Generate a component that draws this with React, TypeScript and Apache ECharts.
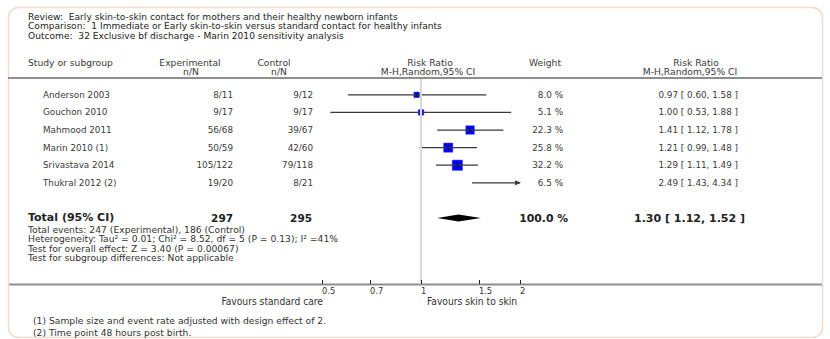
import React, { useEffect, useRef } from 'react';
import * as echarts from 'echarts';

// ---------- data ----------
const studies = ['Anderson 2003', 'Gouchon 2010', 'Mahmood 2011', 'Marin 2010 (1)', 'Srivastava 2014', 'Thukral 2012 (2)'];
const experimental = ['8/11', '9/17', '56/68', '50/59', '105/122', '19/20'];
const control = ['9/12', '9/17', '39/67', '42/60', '79/118', '8/21'];
const riskRatio = [0.97, 1.0, 1.41, 1.21, 1.29, 2.49];
const ciLower = [0.6, 0.53, 1.12, 0.99, 1.11, 1.43];
const ciUpper = [1.58, 1.88, 1.78, 1.48, 1.49, 4.34];
const weights = [8.0, 5.1, 22.3, 25.8, 32.2, 6.5];

const totalLabel = 'Total (95% CI)';
const totalExperimental = 297;
const totalControl = 295;
const totalRR = 1.3;
const totalLower = 1.12;
const totalUpper = 1.52;
const totalWeight = 100.0;

const xTicks = [0.5, 0.7, 1, 1.5, 2];
const X_MIN = 0.5;
const X_MAX = 2;

const headerLines = [
  'Review:  Early skin-to-skin contact for mothers and their healthy newborn infants',
  'Comparison:  1 Immediate or Early skin-to-skin versus standard contact for healthy infants',
  'Outcome:  32 Exclusive bf discharge - Marin 2010 sensitivity analysis',
];
const summaryLines = [
  'Total events: 247 (Experimental), 186 (Control)',
  'Heterogeneity: Tau\u00b2 = 0.01; Chi\u00b2 = 8.52, df = 5 (P = 0.13); I\u00b2 =41%',
  'Test for overall effect: Z = 3.40 (P = 0.00067)',
  'Test for subgroup differences: Not applicable',
];
const footnotes = [
  '(1) Sample size and event rate adjusted with design effect of 2.',
  '(2) Time point 48 hours post birth.',
];
const favoursLeft = 'Favours standard care';
const favoursRight = 'Favours skin to skin';

const FONT = "'DejaVu Sans', Verdana, sans-serif";
const COND = "'DejaVu Sans Condensed', 'Liberation Sans Narrow', 'DejaVu Sans', sans-serif";
const TOTAL_ROW = 7;

function fmtCI(rr: number, lo: number, hi: number) {
  return `${rr.toFixed(2)} [ ${lo.toFixed(2)}, ${hi.toFixed(2)} ]`;
}

function txt(text: string, x: number, y: number, opts: any = {}) {
  const align = opts.align || 'left';
  return {
    type: 'text',
    x,
    y,
    silent: true,
    style: {
      text,
      fontSize: opts.size || 8.8,
      fontFamily: opts.family || FONT,
      fontWeight: opts.weight || 'normal',
      fill: opts.color || '#3a3a3a',
      align,
      textAlign: align,
      verticalAlign: 'middle',
      textVerticalAlign: 'middle',
    },
  };
}

export default function App() {
  const ref = useRef<HTMLDivElement>(null);

  useEffect(() => {
    document.body.style.margin = '0';
    if (!ref.current) return;
    const chart = echarts.init(ref.current, undefined, { renderer: 'svg' });

    const studyData = studies.map((_, i) => [riskRatio[i], i, ciLower[i], ciUpper[i], weights[i]]);
    const H = 9.2;

    const graphics: any[] = [
      {
        type: 'rect',
        silent: true,
        shape: { x: 8.5, y: 7.5, width: 814, height: 330, r: 10 },
        style: { fill: 'none', stroke: '#f5d9cb', lineWidth: 1.5 },
      },
      ...headerLines.map((t, i) => txt(t, 28, 17 + i * 9.4, { color: '#222', size: 9.1 })),
      txt('Study or subgroup', 28, 62, { size: H }),
      txt('Experimental', 190, 62, { align: 'center', size: H }),
      txt('n/N', 191, 71.5, { align: 'center', size: H }),
      txt('Control', 274, 62, { align: 'center', size: H }),
      txt('n/N', 279, 71.5, { align: 'center', size: H }),
      txt('Risk Ratio', 430, 62, { align: 'center', size: H }),
      txt('M-H,Random,95% CI', 428, 71.5, { align: 'center', size: H }),
      txt('Weight', 545, 62, { align: 'center', size: H }),
      txt('Risk Ratio', 696, 62, { align: 'center', size: H }),
      txt('M-H,Random,95% CI', 690, 71.5, { align: 'center', size: H }),
      {
        type: 'line',
        silent: true,
        shape: { x1: 8, y1: 78, x2: 822, y2: 78 },
        style: { stroke: '#8e8e8e', lineWidth: 2 },
      },
      ...summaryLines.map((t, i) => txt(t, 28, 229 + i * 9.5, { size: 9.2, color: '#333' })),
      {
        type: 'line',
        silent: true,
        z: -1,
        shape: { x1: 8, y1: 284.5, x2: 822, y2: 284.5 },
        style: { stroke: '#8e8e8e', lineWidth: 2 },
      },
      txt(favoursLeft, 323, 301, { align: 'right', family: COND, size: 10.2, color: '#333' }),
      txt(favoursRight, 427, 301, { align: 'left', family: COND, size: 10.2, color: '#333' }),
      ...footnotes.map((t, i) => txt(t, 33, 320 + i * 12, { size: 9.2, color: '#333' })),
    ];

    const option: any = {
      animation: false,
      backgroundColor: '#ffffff',
      grid: { left: 322, right: 830 - 520, top: 79, bottom: 339 - 284, containLabel: false },
      xAxis: {
        type: 'log',
        logBase: 10,
        min: X_MIN,
        max: X_MAX,
        z: 10,
        axisLine: { show: false, onZero: false },
        axisTick: {
          show: true,
          inside: true,
          length: 4,
          customValues: xTicks,
          lineStyle: { color: '#222', width: 1 },
        },
        axisLabel: {
          show: true,
          customValues: xTicks,
          align: 'left',
          margin: 2,
          fontSize: 9.2,
          fontFamily: COND,
          color: '#333',
          formatter: (v: number) => String(Math.round(v * 100) / 100),
        },
        splitLine: { show: false },
      },
      yAxis: {
        type: 'value',
        inverse: true,
        min: -0.9,
        max: 10.75,
        show: false,
      },
      graphic: graphics,
      series: [
        {
          type: 'custom',
          name: 'studies',
          clip: false,
          data: studyData,
          markLine: {
            silent: true,
            symbol: 'none',
            label: { show: false },
            lineStyle: { color: '#d9d9d9', width: 2, type: 'solid' },
            data: [{ xAxis: 1 }],
          },
          renderItem: (params: any, api: any) => {
            const i = params.dataIndex;
            const rr = api.value(0) as number;
            const row = api.value(1) as number;
            const lo = api.value(2) as number;
            const hi = api.value(3) as number;
            const w = api.value(4) as number;
            const y = api.coord([1, row])[1];
            const xl = api.coord([Math.max(lo, X_MIN), row])[0];
            const xr = api.coord([Math.min(hi, X_MAX), row])[0];
            const inRange = rr >= X_MIN && rr <= X_MAX;
            const children: any[] = [];
            if (inRange) {
              const xc = api.coord([rr, row])[0];
              const s = Math.max(5.5, Math.sqrt(w) * 1.8);
              children.push({
                type: 'rect',
                shape: { x: xc - s / 2, y: y - s / 2, width: s, height: s },
                style: { fill: '#0000ff', stroke: '#2a2ad8', lineWidth: 0.5 },
              });
            }
            children.push({
              type: 'line',
              shape: { x1: xl, y1: y, x2: xr, y2: y },
              style: { stroke: '#3a3a3a', lineWidth: 1.2 },
            });
            if (hi > X_MAX) {
              children.push({
                type: 'polygon',
                shape: { points: [[xr + 1, y], [xr - 5, y - 2.5], [xr - 5, y + 2.5]] },
                style: { fill: '#3a3a3a' },
              });
            }
            if (inRange) {
              const xc = api.coord([rr, row])[0];
              children.push({
                type: 'line',
                shape: { x1: xc, y1: y - 2, x2: xc, y2: y + 2 },
                style: { stroke: '#111', lineWidth: 1 },
              });
            }
            children.push(txt(studies[i], 43, y, {}));
            children.push(txt(experimental[i], 233, y, { align: 'right' }));
            children.push(txt(control[i], 313, y, { align: 'right' }));
            children.push(txt(`${w.toFixed(1)} %`, 563, y, { align: 'right' }));
            children.push(txt(fmtCI(rr, lo, hi), 738, y, { align: 'right' }));
            return { type: 'group', children };
          },
        },
        {
          type: 'custom',
          name: 'total',
          clip: false,
          data: [[totalRR, TOTAL_ROW, totalLower, totalUpper, totalWeight]],
          renderItem: (params: any, api: any) => {
            const rr = api.value(0) as number;
            const row = api.value(1) as number;
            const lo = api.value(2) as number;
            const hi = api.value(3) as number;
            const w = api.value(4) as number;
            const c = api.coord([rr, row]);
            const l = api.coord([lo, row]);
            const r = api.coord([hi, row]);
            const h = 3.5;
            return {
              type: 'group',
              children: [
                {
                  type: 'polygon',
                  shape: { points: [[l[0], c[1]], [c[0], c[1] - h], [r[0], c[1]], [c[0], c[1] + h]] },
                  style: { fill: '#000' },
                },
                txt(totalLabel, 28, c[1] - 0.5, { size: 11, weight: 'bold', color: '#222' }),
                txt(String(totalExperimental), 233, c[1], { size: 10.5, weight: 'bold', color: '#222', align: 'right' }),
                txt(String(totalControl), 312, c[1], { size: 10.5, weight: 'bold', color: '#222', align: 'right' }),
                txt(`${w.toFixed(1)} %`, 568, c[1], { size: 10.8, weight: 'bold', color: '#222', align: 'right' }),
                txt(fmtCI(rr, lo, hi), 745, c[1], { size: 11, weight: 'bold', color: '#222', align: 'right' }),
              ],
            };
          },
        },
      ],
    };

    chart.setOption(option);
    return () => chart.dispose();
  }, []);

  return <div ref={ref} style={{ width: 830, height: 339 }} />;
}
